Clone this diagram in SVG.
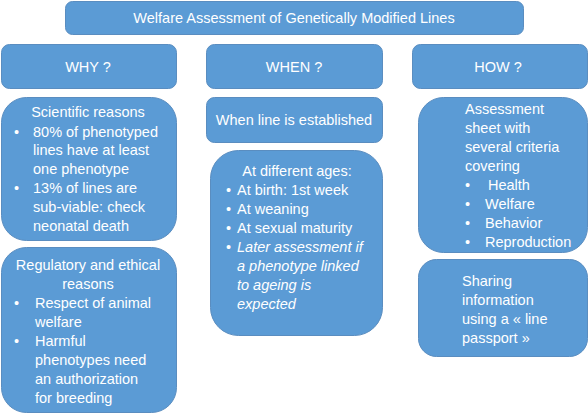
<svg xmlns="http://www.w3.org/2000/svg" width="588" height="416" viewBox="0 0 588 416">
<style>
.b{fill:#5b9bd5;stroke:#5a8dc0;stroke-width:1}
text{font-family:"Liberation Sans",Arial,sans-serif;font-size:14.5px;fill:#fff}
.c{text-anchor:middle}
.i{font-style:italic}
</style>
<rect width="588" height="416" fill="#fff"/>
<g id="title"><rect class="b" x="65.5" y="1.5" width="458" height="33" rx="7"/><text class="c" x="294" y="23">Welfare Assessment of Genetically Modified Lines</text></g>
<g id="why"><rect class="b" x="1.5" y="44.5" width="175" height="44" rx="8"/><text class="c" x="88" y="72">WHY ?</text></g>
<g id="when"><rect class="b" x="206.5" y="44.5" width="176" height="44" rx="8"/><text class="c" x="294" y="72">WHEN ?</text></g>
<g id="how"><rect class="b" x="412.5" y="44.5" width="175" height="44" rx="8"/><text class="c" x="498" y="72">HOW ?</text></g>
<g id="scientific"><rect class="b" x="1.5" y="97.5" width="175" height="143" rx="25"/>
<text class="c" x="88" y="117">Scientific reasons</text>
<text x="14" y="137">•</text><text x="33" y="137">80% of phenotyped</text>
<text x="33" y="155">lines have at least</text>
<text x="33" y="174">one phenotype</text>
<text x="14" y="193">•</text><text x="33" y="193">13% of lines are</text>
<text x="33" y="212">sub-viable: check</text>
<text x="33" y="231">neonatal death</text>
</g>
<g id="regulatory"><rect class="b" x="1.5" y="247.5" width="175" height="165" rx="25"/>
<text class="c" x="88" y="270">Regulatory and ethical</text>
<text class="c" x="88" y="289">reasons</text>
<text x="14" y="308">•</text><text x="35" y="308">Respect of animal</text>
<text x="35" y="327">welfare</text>
<text x="14" y="346">•</text><text x="35" y="346">Harmful</text>
<text x="35" y="365">phenotypes need</text>
<text x="35" y="384">an authorization</text>
<text x="35" y="403">for breeding</text>
</g>
<g id="established"><rect class="b" x="206.5" y="97.5" width="176" height="45" rx="8"/><text class="c" x="294" y="125">When line is established</text></g>
<g id="ages"><rect class="b" x="210.5" y="150.5" width="172" height="185" rx="28"/>
<text class="c" x="297" y="176">At different ages:</text>
<text x="226" y="195">•</text><text x="237" y="195">At birth: 1st week</text>
<text x="226" y="214">•</text><text x="237" y="214">At weaning</text>
<text x="226" y="233">•</text><text x="237" y="233">At sexual maturity</text>
<text x="226" y="252">•</text><text class="i" x="237" y="252">Later assessment if</text>
<text class="i" x="237" y="271">a phenotype linked</text>
<text class="i" x="237" y="290">to ageing is</text>
<text class="i" x="237" y="309">expected</text>
</g>
<g id="assessment"><rect class="b" x="418.5" y="97.5" width="169" height="155" rx="25"/>
<text x="465" y="114">Assessment</text>
<text x="465" y="133">sheet with</text>
<text x="465" y="152">several criteria</text>
<text x="465" y="171">covering</text>
<text x="465" y="190">•</text><text x="488" y="190">Health</text>
<text x="465" y="209">•</text><text x="485" y="209">Welfare</text>
<text x="465" y="228">•</text><text x="485" y="228">Behavior</text>
<text x="465" y="247">•</text><text x="485" y="247">Reproduction</text>
</g>
<g id="sharing"><rect class="b" x="418.5" y="259.5" width="169" height="97" rx="18"/>
<text x="462" y="286">Sharing</text>
<text x="462" y="305">information</text>
<text x="462" y="324">using a « line</text>
<text x="462" y="343">passport »</text>
</g>
<g id="connectors"/>
</svg>
